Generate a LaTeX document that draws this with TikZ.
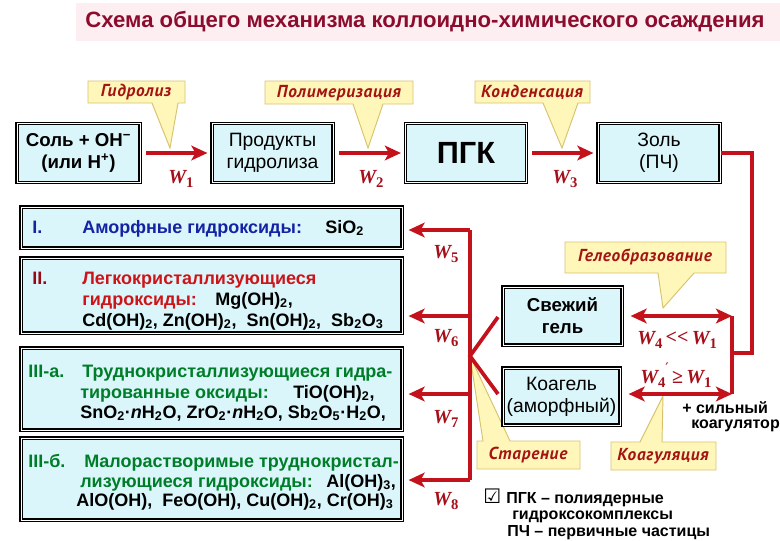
\documentclass[tikz,border=0pt]{standalone}
\usepackage{fontspec}
\setmainfont{Liberation Sans}
\newfontfamily\wfont{Liberation Serif}
\newfontfamily\cfont{PT Sans}
\newfontfamily\symfont{DejaVu Sans}
\usetikzlibrary{arrows.meta}
\definecolor{titlered}{RGB}{140,12,46}
\definecolor{band}{RGB}{253,238,241}
\definecolor{arr}{RGB}{196,18,28}
\definecolor{wred}{RGB}{165,15,25}
\definecolor{boxfill}{RGB}{218,246,250}
\definecolor{callfill}{RGB}{255,247,185}
\definecolor{calldraw}{RGB}{215,195,110}
\definecolor{calltext}{RGB}{165,20,20}
\definecolor{tblue}{RGB}{20,35,165}
\definecolor{tred}{RGB}{205,20,25}
\definecolor{tdred}{RGB}{150,10,20}
\definecolor{tgreen}{RGB}{0,125,40}
\newcommand\Wn[1]{W\raisebox{-0.45ex}{\fontsize{11}{11}\selectfont\upshape #1}}
\tikzset{
  cbox/.style={draw=black, line width=0.9pt, double=white, double distance=0.6pt, fill=boxfill, inner sep=0pt, align=center},
  rline/.style={draw=arr, line width=2.8pt},
  rarrow/.style={rline, -{Stealth[length=12pt,width=11pt,inset=3pt]}},
  rdarrow/.style={rline, {Stealth[length=12pt,width=11pt,inset=3pt]}-{Stealth[length=12pt,width=11pt,inset=3pt]}},
  callpath/.style={fill=callfill, draw=calldraw, line width=0.7pt, line join=miter},
  ctext/.style={font=\cfont\bfseries\itshape\fontsize{13}{15}\selectfont\addfontfeatures{LetterSpace=4}, text=calltext, inner sep=0pt},
  wlab/.style={text=wred, inner sep=0pt, anchor=base west, font=\wfont\bfseries\itshape\fontsize{15}{16}\selectfont},
  ltxt/.style={inner sep=0pt, anchor=base west, font=\bfseries\fontsize{13.5}{15}\selectfont},
  ntxt/.style={inner sep=0pt, anchor=base west, font=\bfseries\fontsize{12}{14}\selectfont},
  btxt/.style={font=\bfseries\fontsize{14}{16.5}\selectfont},
  rtxt/.style={font=\fontsize{14.5}{16.5}\selectfont},
}
\begin{document}
\begin{tikzpicture}[x=0.75pt,y=-0.75pt]
\useasboundingbox (0,0) rectangle (780,540);
\clip (0,0) rectangle (780,540);
\fill[white] (0,0) rectangle (780,540);
% title
\fill[band] (76,3) rectangle (780,41);
\node[text=titlered, font=\bfseries\fontsize{16.6}{18}\selectfont, inner sep=0pt] (title) at (425,22) {Схема общего механизма коллоидно-химического осаждения};
% callouts
\draw[callpath] (88,81) -- (185,81) -- (185,103) -- (178,103) -- (170,148) -- (152,103) -- (88,103) -- cycle;
\node[ctext] (c1) at (136,92) {Гидролиз};
\draw[callpath] (265,81) -- (413,81) -- (413,104) -- (383,104) -- (368,148) -- (353,104) -- (265,104) -- cycle;
\node[ctext] (c2) at (339,93) {Полимеризация};
\draw[callpath] (475,81) -- (590,81) -- (590,103) -- (578,103) -- (562,148) -- (543,103) -- (475,103) -- cycle;
\node[ctext] (c3) at (532,92) {Конденсация};
\draw[callpath] (565,242) -- (726,242) -- (726,273) -- (694,273) -- (663,308) -- (658,273) -- (565,273) -- cycle;
\node[ctext] (c4) at (645,257) {Гелеобразование};
\draw[callpath] (477,441) -- (483,441) -- (470,356) -- (510,441) -- (580,441) -- (580,469) -- (477,469) -- cycle;
\node[ctext] (c5) at (528,455) {Старение};
\draw[callpath] (611,442) -- (640,442) -- (663,396) -- (662,442) -- (716,442) -- (716,470) -- (611,470) -- cycle;
\node[ctext] (c6) at (663,456) {Коагуляция};
% top row boxes
\node[cbox, btxt, minimum width=123*0.75pt, minimum height=59*0.75pt] (soln) at (78.5,153) {Соль + OH\textsuperscript{−}\\(или H\textsuperscript{+})};
\node[cbox, rtxt, minimum width=121*0.75pt, minimum height=59*0.75pt] (prod) at (272.5,153) {Продукты\\гидролиза};
\node[cbox, font=\bfseries\fontsize{23}{26}\selectfont, minimum width=121*0.75pt, minimum height=59*0.75pt] (pgk) at (466,153) {ПГК};
\node[cbox, rtxt, minimum width=122*0.75pt, minimum height=59*0.75pt] (zol) at (659,153) {Золь\\(ПЧ)};
\draw[rarrow, shorten <=4pt, shorten >=3pt] (soln) -- (prod);
\draw[rarrow, shorten <=4pt, shorten >=3pt] (prod) -- (pgk);
\draw[rarrow, shorten <=4pt, shorten >=3pt] (pgk) -- (zol);
\node[wlab] (w1) at (168,183) {\Wn{1}};
\node[wlab] (w2) at (358,183) {\Wn{2}};
\node[wlab] (w3) at (552,183) {\Wn{3}};
% right boxes
\node[cbox, btxt, minimum width=119*0.75pt, minimum height=58*0.75pt] (svezh) at (562.5,316) {Свежий\\гель};
\node[cbox, rtxt, minimum width=117*0.75pt, minimum height=57*0.75pt] (koag) at (561.5,396.5) {Коагель\\(аморфный)};
\coordinate (br1) at (732,316);
\coordinate (br2) at (732,394);
\coordinate (bj) at (732,353);
\coordinate (zc) at (752,353);
\draw[rline, line join=miter] (zol.east) -| (zc) -- (bj);
\draw[rline] (br1) -- (br2);
\draw[rdarrow, shorten <=6pt] (svezh.east |- br1) -- (br1);
\draw[rdarrow, shorten <=6pt] (koag.east |- br2) -- (br2);
\node[wlab] (w4a) at (637,344) {\Wn{4}\,\raisebox{0.1ex}{\upshape<<}\,\Wn{1}};
\node[wlab] (w4b) at (640,383) {W\raisebox{-0.45ex}{\fontsize{11}{11}\selectfont\upshape 4}\raisebox{1.0ex}{\symfont\mdseries\upshape\fontsize{11}{11}\selectfont ′}\,\upshape≥\,\itshape\Wn{1}};
\node[ntxt] (sil1) at (682,413) {+ сильный};
\node[ntxt] (sil2) at (691,428) {коагулятор};
% left boxes
\node[cbox, minimum width=381*0.75pt, minimum height=41*0.75pt] (b1) at (211.5,227.5) {};
\node[cbox, minimum width=381*0.75pt, minimum height=75*0.75pt] (b2) at (211.5,295.5) {};
\node[cbox, minimum width=381*0.75pt, minimum height=82*0.75pt] (b3) at (211.5,389) {};
\node[cbox, minimum width=381*0.75pt, minimum height=82*0.75pt] (b4) at (211.5,479) {};
\node[ltxt, text=tblue] (t1n) at (32,233) {I.};
\node[ltxt, text=tblue] (t1a) at (82,233) {Аморфные гидроксиды:};
\node[ltxt] (t1b) at (325,233) {SiO\textsubscript{2}};
\node[ltxt, text=tdred] (t2n) at (32,284) {II.};
\node[ltxt, text=tred] (t2a) at (82,284) {Легкокристаллизующиеся};
\node[ltxt, text=tred] (t2b) at (82,305) {гидроксиды:};
\node[ltxt] (t2c) at (215,305) {Mg(OH)\textsubscript{2},};
\node[ltxt] (t2d) at (82,326) {Cd(OH)\textsubscript{2}, Zn(OH)\textsubscript{2},\ \ Sn(OH)\textsubscript{2},\ \ Sb\textsubscript{2}O\textsubscript{3}};
\node[ltxt, text=tgreen] (t3n) at (28,377) {III-а.};
\node[ltxt, text=tgreen] (t3a) at (82,377) {Труднокристаллизующиеся гидра-};
\node[ltxt, text=tgreen] (t3b) at (80,398) {тированные оксиды:};
\node[ltxt] (t3c) at (293,398) {TiO(OH)\textsubscript{2},};
\node[ltxt] (t3d) at (80,418) {SnO\textsubscript{2}·\textit{n}H\textsubscript{2}O, ZrO\textsubscript{2}·\textit{n}H\textsubscript{2}O, Sb\textsubscript{2}O\textsubscript{5}·H\textsubscript{2}O,};
\node[ltxt, text=tgreen] (t4n) at (28,467) {III-б.};
\node[ltxt, text=tgreen] (t4a) at (84,467) {Малорастворимые труднокристал-};
\node[ltxt, text=tgreen] (t4b) at (80,487) {лизующиеся гидроксиды:};
\node[ltxt] (t4c) at (326,487) {Al(OH)\textsubscript{3},};
\node[ltxt] (t4d) at (76,506) {AlO(OH),\ \ FeO(OH), Cu(OH)\textsubscript{2}, Cr(OH)\textsubscript{3}};
% main vertical and arrows
\coordinate (v5) at (470,230);
\coordinate (v6) at (470,316);
\coordinate (v7) at (470,394);
\coordinate (v8) at (470,480);
\coordinate (vj) at (470,356);
\coordinate (vt) at (498,317);
\coordinate (vb) at (498,394);
\draw[rline] (v5) -- (v8);
\draw[rarrow, shorten >=4.5pt] (v5) -- (v5 -| b1.east);
\draw[rarrow, shorten >=4.5pt] (v6) -- (v6 -| b2.east);
\draw[rarrow, shorten >=4.5pt] (v7) -- (v7 -| b3.east);
\draw[rarrow, shorten >=4.5pt] (v8) -- (v8 -| b4.east);
\draw[rline] (vt) -- (vj) -- (vb);
\node[wlab] (w5) at (433,258) {\Wn{5}};
\node[wlab] (w6) at (433,342) {\Wn{6}};
\node[wlab] (w7) at (433,423) {\Wn{7}};
\node[wlab] (w8) at (433,505) {\Wn{8}};
% note
\node[ntxt, font=\symfont\fontsize{15}{16}\selectfont] (chk) at (483,503) {☑};
\node[ntxt] (n1) at (506,503) {ПГК – полиядерные};
\node[ntxt] (n2) at (512,519.5) {гидроксокомплексы};
\node[ntxt] (n3) at (507,536.5) {ПЧ – первичные частицы};
\end{tikzpicture}
\end{document}
